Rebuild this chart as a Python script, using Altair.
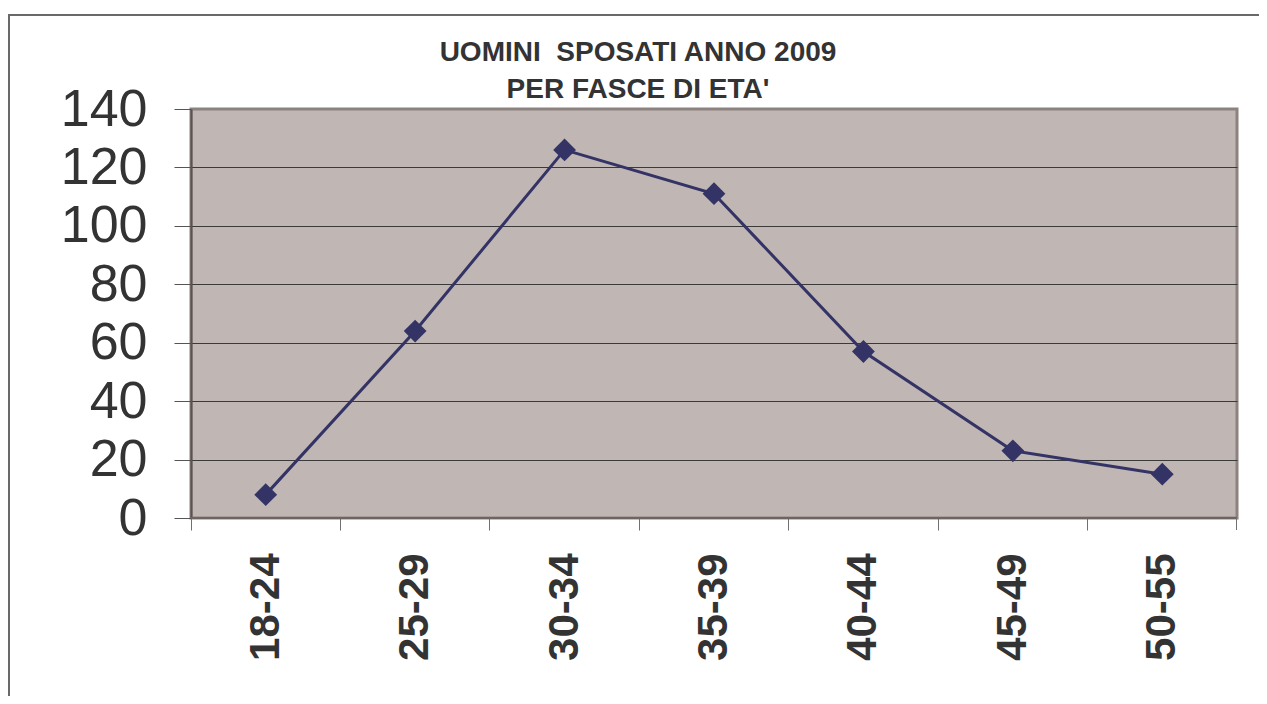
import altair as alt
import pandas as pd

categories = ["18-24", "25-29", "30-34", "35-39", "40-44", "45-49", "50-55"]
values = [8, 64, 126, 111, 57, 23, 15]
y_ticks = [0, 20, 40, 60, 80, 100, 120, 140]
title_lines = ["UOMINI\u00a0 SPOSATI ANNO 2009", "PER FASCE DI ETA'"]

df = pd.DataFrame({"fascia": categories, "uomini": values})

W, H = 1046, 409
FONT = "Liberation Sans"
LINE = "#333366"

x_enc = alt.X(
    "fascia:N",
    sort=categories,
    scale=alt.Scale(type="band", paddingInner=0, paddingOuter=0),
    axis=alt.Axis(
        title=None,
        domain=False,
        bandPosition=0,
        ticks=True,
        tickSize=12,
        tickColor="#707070",
        tickWidth=1,
        labelAngle=270,
        labelFont=FONT,
        labelFontSize=42,
        labelFontWeight="bold",
        labelColor="#333333",
        labelPadding=23,
        grid=False,
    ),
)
y_enc = alt.Y(
    "uomini:Q",
    scale=alt.Scale(domain=[0, 140], nice=False, zero=True),
    axis=alt.Axis(
        title=None,
        values=y_ticks,
        domain=True,
        domainColor="#5a5250",
        domainWidth=2,
        tickSize=17,
        tickColor="#555555",
        tickWidth=1,
        labelFont=FONT,
        labelFontSize=52,
        labelColor="#333333",
        labelPadding=27,
        grid=True,
        gridColor={"condition": {"test": "datum.value === 140 || datum.value === 0", "value": "transparent"}, "value": "#3a3a3a"},
        gridWidth=1,
    ),
)

frame = alt.Chart(df).mark_rect(filled=False, stroke="#6a6a6a", strokeWidth=1.5).encode(
    x=alt.value(-182), x2=alt.value(1400), y=alt.value(-94), y2=alt.value(800)
)

line = alt.Chart(df).mark_line(color=LINE, strokeWidth=3).encode(x=x_enc, y=y_enc)
points = alt.Chart(df).mark_point(
    shape="diamond", filled=True, color=LINE, size=520, opacity=1
).encode(x=alt.X("fascia:N", sort=categories), y="uomini:Q")

last_tick = alt.Chart(df).mark_rule(color="#707070", strokeWidth=1).encode(
    x=alt.value(W - 0.5), y=alt.value(H), y2=alt.value(H + 12)
)
bottom_line = alt.Chart(df).mark_rule(color="#6e6462", strokeWidth=2).encode(
    x=alt.value(0), x2=alt.value(W), y=alt.value(H)
)

chart = (
    alt.layer(frame, bottom_line, last_tick, line, points)
    .properties(
        width=W,
        height=H,
        autosize=alt.AutoSizeParams(type="none"),
        padding={"left": 183, "top": 101, "right": 22, "bottom": 178},
        title=alt.TitleParams(
            text=title_lines,
            font=FONT,
            fontSize=28,
            fontWeight="bold",
            color="#333333",
            lineHeight=37,
            anchor="middle",
            dx=-76,
            offset=-90,
        ),
    )
    .configure(background="white")
    .configure_view(fill="#C0B7B4", stroke="#8C827F", strokeWidth=3)
)

chart.save("out.html", embed_options={"renderer": "svg", "actions": False})
